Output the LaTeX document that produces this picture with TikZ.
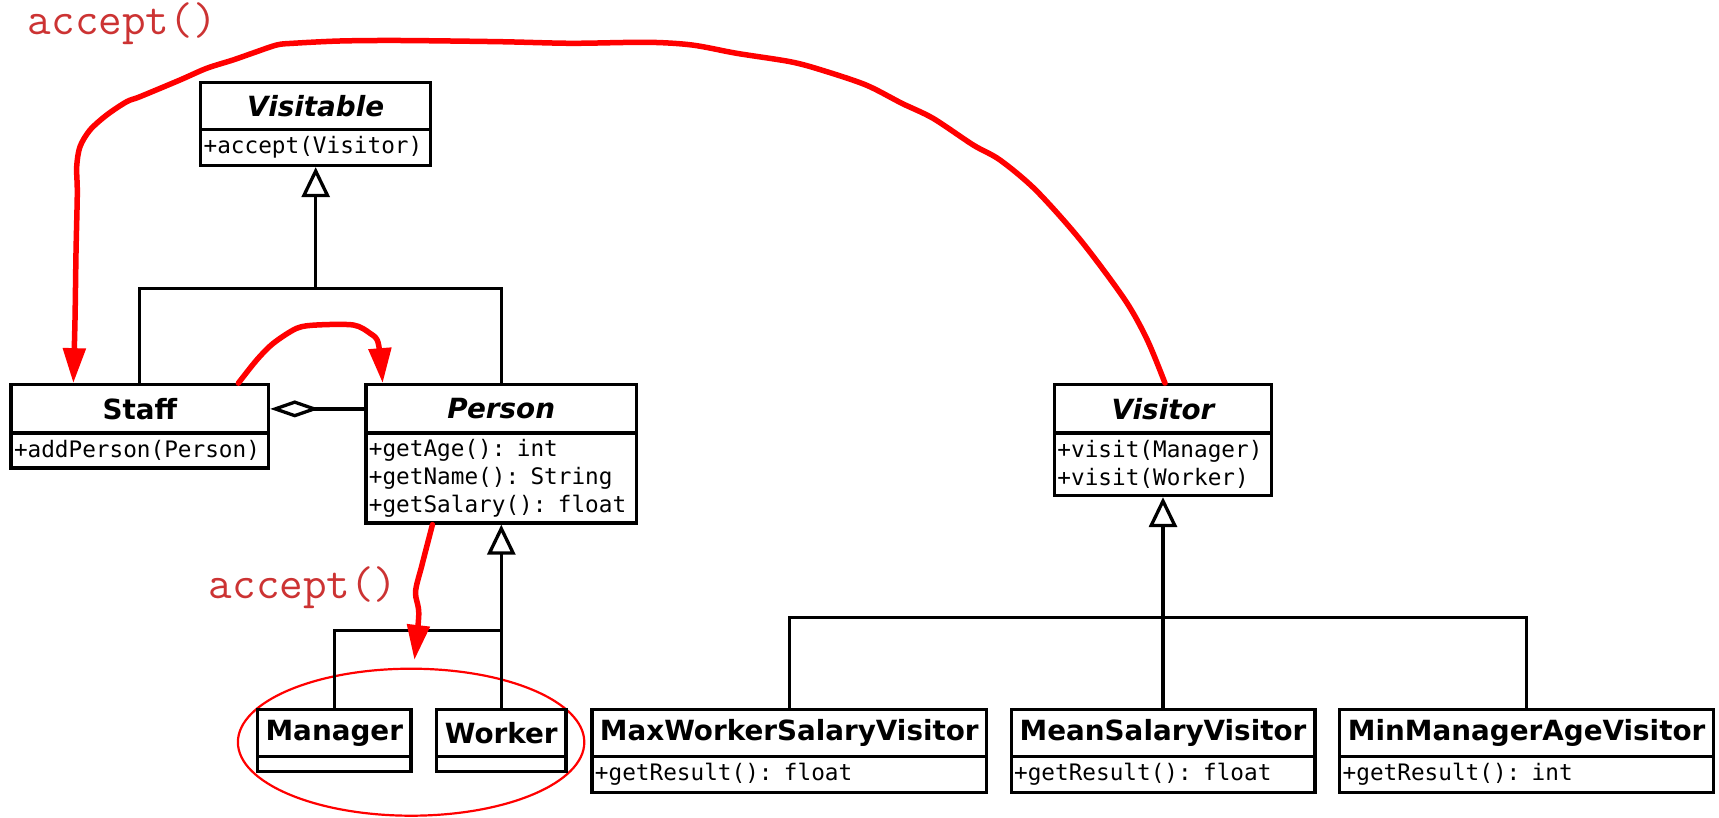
\documentclass[tikz,border=0pt]{standalone}
\usepackage{fontspec}
\usetikzlibrary{arrows.meta,shapes.geometric}
\newfontfamily\djv{DejaVu Sans}
\newfontfamily\djm{DejaVu Sans Mono}
\definecolor{lbl}{RGB}{204,51,51}
\begin{document}
\begin{tikzpicture}[x=1pt,y=-1pt,
  box/.style={draw, line width=3.3pt, inner sep=0pt, fill=white},
  ttl/.style={box, font=\djv\bfseries\fontsize{27.8}{32}\selectfont},
  ttli/.style={box, font=\djv\bfseries\itshape\fontsize{27.8}{32}\selectfont},
  bdy/.style={box, font=\djm\fontsize{22.7}{28}\selectfont, align=left, inner xsep=3pt, inner ysep=0pt},
  gen/.style={line width=3.3pt, -{Triangle[open,length=30pt,width=28pt]}},
  agg/.style={line width=3.3pt, -{Diamond[open,length=49pt,width=17pt]}},
  call/.style={red, line width=5.5pt, line cap=round, line join=round, -{Triangle[length=35pt,width=22pt]}},
  lab/.style={text=lbl, inner sep=0pt, font=\ttfamily\fontsize{45.8}{52}\selectfont},
]
\useasboundingbox (0,0) rectangle (1719,818);
\fill[white] (0,0) rectangle (1719,818);

% group ellipse
\node[draw=red, line width=2.2pt, ellipse, minimum width=346.4pt, minimum height=147pt, inner sep=0pt] (grp) at (411.1,742.2) {};

% classes
\node[ttli, minimum width=230.2pt, minimum height=47.2pt] (visT) at (315.7,105.8) {Visitable};
\node[bdy, text width=224.2pt, minimum height=36.1pt] (visB) at (315.7,147.45) {+accept(Visitor)};

\node[ttl, minimum width=257.6pt, minimum height=48.2pt] (staffT) at (139.8,408.9) {Staff};
\node[bdy, text width=251.6pt, minimum height=35.1pt] (staffB) at (139.8,450.55) {+addPerson(Person)};

\node[ttli, minimum width=270.8pt, minimum height=48.2pt] (personT) at (501.3,408.9) {Person};
\node[bdy, text width=264.8pt, minimum height=90pt] (personB) at (501.3,478) {+getAge(): int\\+getName(): String\\+getSalary(): float};

\node[ttli, minimum width=217.1pt, minimum height=48.2pt] (visitorT) at (1163,408.9) {Visitor};
\node[bdy, text width=211.1pt, minimum height=62.5pt] (visitorB) at (1163,464.25) {+visit(Manager)\\+visit(Worker)};

\node[ttl, minimum width=153.4pt, minimum height=47.2pt] (managerT) at (334.3,732.9) {Manager};
\node[bdy, text width=147.4pt, minimum height=15.3pt] (managerB) at (334.3,764.15) {};

\node[ttl, minimum width=129.4pt, minimum height=47.2pt] (workerT) at (501.3,732.9) {Worker};
\node[bdy, text width=123.4pt, minimum height=15.3pt] (workerB) at (501.3,764.15) {};

\node[ttl, minimum width=394.7pt, minimum height=47.2pt] (maxT) at (789.3,732.9) {MaxWorkerSalaryVisitor};
\node[bdy, text width=388.7pt, minimum height=36.1pt] (maxB) at (789.3,774.55) {+getResult(): float};

\node[ttl, minimum width=303.7pt, minimum height=47.2pt] (meanT) at (1163,732.9) {MeanSalaryVisitor};
\node[bdy, text width=297.7pt, minimum height=36.1pt] (meanB) at (1163,774.55) {+getResult(): float};

\node[ttl, minimum width=373.8pt, minimum height=47.2pt] (minT) at (1526.6,732.9) {MinManagerAgeVisitor};
\node[bdy, text width=367.8pt, minimum height=36.1pt] (minB) at (1526.6,774.55) {+getResult(): int};

% generalizations
\coordinate (j1) at (315.7,288.3);
\coordinate (j2) at (501.3,630.4);
\coordinate (j3) at (1163,617.2);
\draw[gen] (staffT.north) |- (j1) -- (visB.south);
\draw[line width=3.3pt] (personT.north) |- (j1);
\draw[gen] (workerT.north) -- (personB.south);
\draw[line width=3.3pt] (managerT.north) |- (j2);
\draw[gen] (meanT.north) -- (visitorB.south);
\draw[line width=3.3pt] (maxT.north) |- (j3) -| (minT.north);

% aggregation
\draw[agg] (personT.west) -- (staffT.east);

% labels
\node[lab] (acc1) at (122.3,24) {accept()};
\node[lab] (acc2) at (303.2,587.6) {accept()};

% red call arrows
\draw[call] plot[smooth, tension=0.5] coordinates {([xshift=2pt]visitorT.north) (1147.3,340) (1125,300) (1080.4,240) (1035.7,190) (1000,160) (973.2,145) (933,118.3) (901.8,103.3) (866,85) (821.4,70) (790.2,61.7) (736.6,53.3) (692,45) (647.3,42.3) (571.4,43.3) (500,41.7) (400,40.5) (340,41) (293,43.3) (276.7,45) (253,53) (233,60) (206.7,68.3) (180,80) (140,96.7) (126.7,101.7) (106.7,115) (90,130) (80,146.7) (76.7,166.7) (77.3,193.3) (76,253) (75,320) ([xshift=64pt]staffT.north west)};

\draw[call] plot[smooth, tension=0.5] coordinates {([xshift=229pt]staffT.north west) (256.7,360) (273.3,343.3) (296.7,328.3) (316.7,325) (353.3,325) (370,333.3) (378.3,343.3) ([xshift=18.4pt]personT.north west)};

\coordinate (acc2tip) at (414.4,660);
\draw[call] plot[smooth, tension=0.5] coordinates {([xshift=68.2pt]personB.south west) (422.1,564.6) (415.5,592) (418.8,613.9) (acc2tip)};
\end{tikzpicture}
\end{document}
